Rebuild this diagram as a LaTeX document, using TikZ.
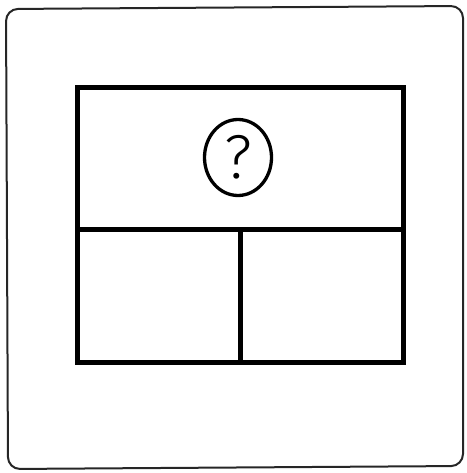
\documentclass[tikz,border=0pt]{standalone}
\usepackage{fontspec}
\newfontfamily\qfont{Fira Sans}[UprightFont=* Light]
\usetikzlibrary{shapes.geometric}

\begin{document}
\begin{tikzpicture}[x=1pt, y=-1pt,
    border/.style={line width=2pt, draw=black!85, rounded corners=12pt},
    frame/.style={line width=5pt, line cap=rect},
    qmark/.style={ellipse, draw, line width=3.3pt, inner sep=0pt,
        minimum width=67pt, minimum height=76pt, font=\qfont\fontsize{62}{62}\selectfont}]
    \useasboundingbox (0,0) rectangle (466,473);
    % outer sheet
    \draw[border] (6,9) -- (463,6) -- (463,466) -- (8,469) -- cycle;

    % layout frame
    \coordinate (tl) at (77.5,87.5);
    \coordinate (br) at (403.5,362.5);
    \coordinate (ml) at (77.5,229);
    \coordinate (mr) at (403.5,229);
    \coordinate (mt) at (240,229);
    \coordinate (mb) at (240,362.5);
    \draw[frame] (tl) rectangle (br);
    \draw[frame] (ml) -- (mr);
    \draw[frame] (mt) -- (mb);

    \node[qmark] (q) at (238,157.5) {?};
\end{tikzpicture}
\end{document}
